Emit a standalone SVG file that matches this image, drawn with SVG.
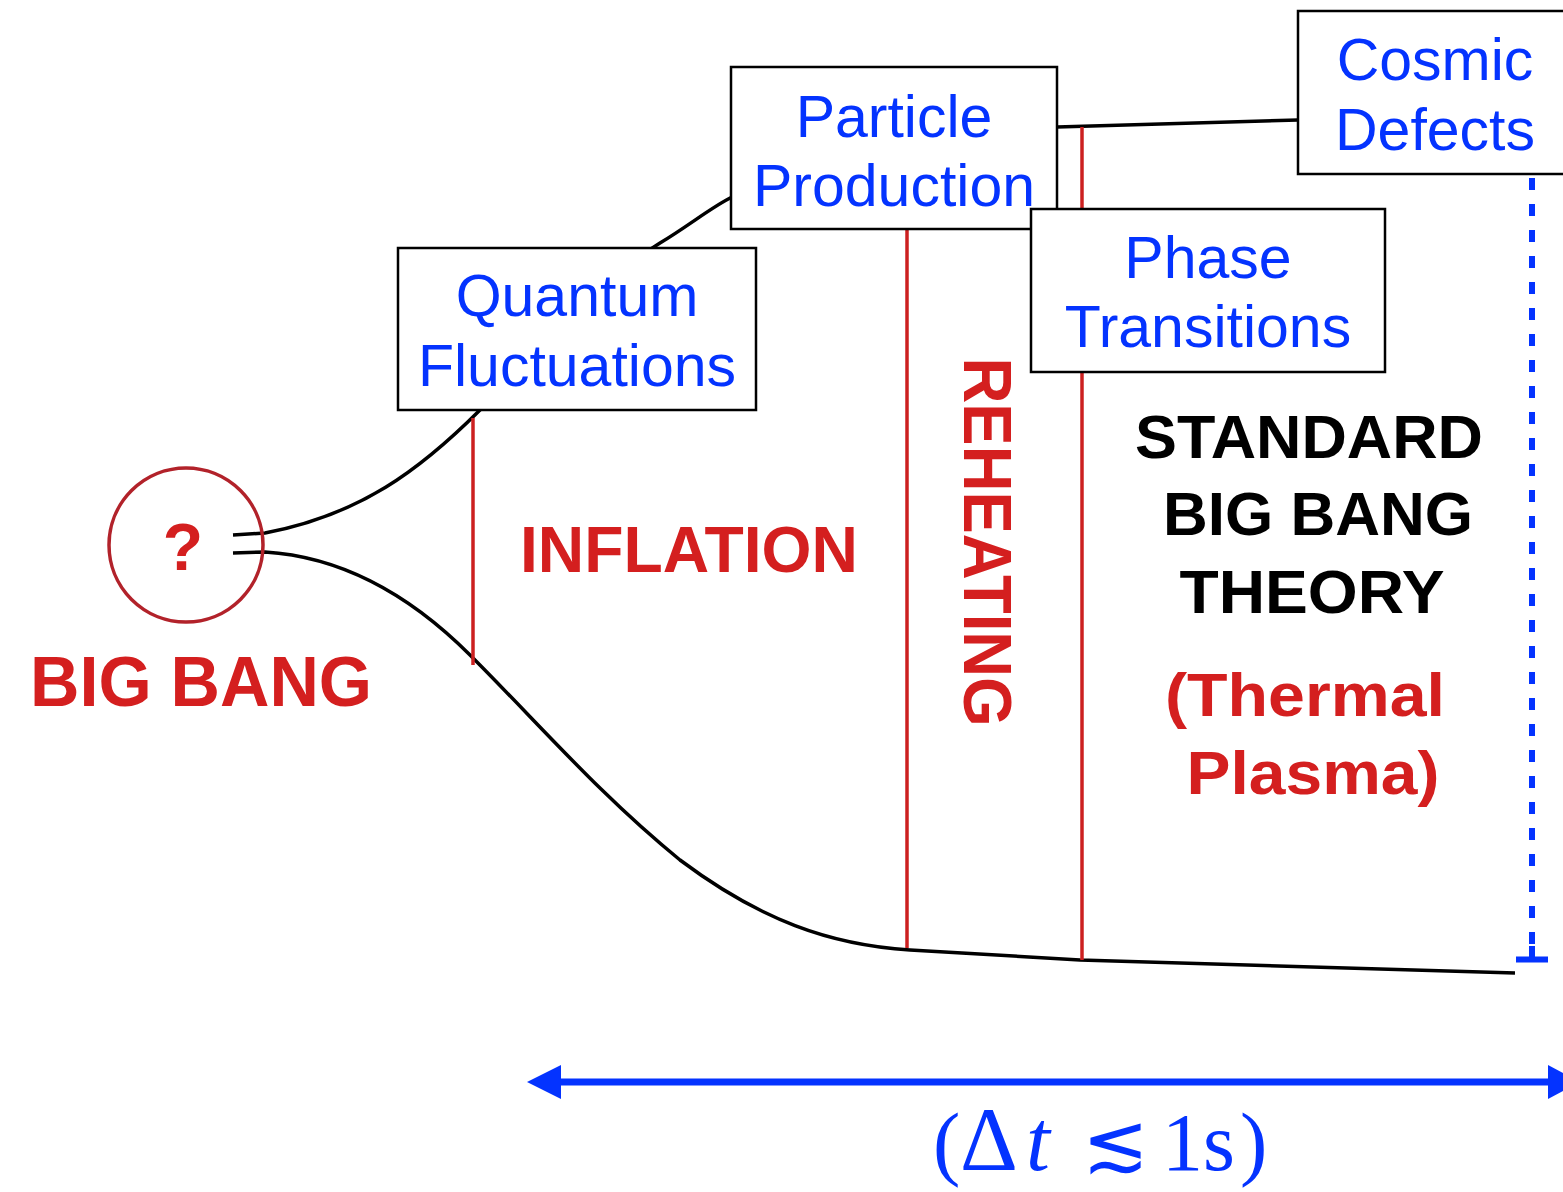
<svg xmlns="http://www.w3.org/2000/svg" width="1563" height="1192" viewBox="0 0 1563 1192">
<defs>
<style>
.box{fill:#fff;stroke:#000;stroke-width:2.5}
.bt{font-family:"Liberation Sans",Arial,sans-serif;font-size:59px;fill:#0433ff;text-anchor:middle}
.red{font-family:"Liberation Sans",Arial,sans-serif;font-weight:bold;fill:#d41f1f}
.blk{font-family:"Liberation Sans",Arial,sans-serif;font-weight:bold;fill:#000;font-size:62px;text-anchor:middle}
.curve{fill:none;stroke:#000;stroke-width:3.5}
.rline{stroke:#cc2020;stroke-width:3.5}
.math{font-family:"Liberation Serif","DejaVu Serif",serif;font-size:82px;fill:#0433ff}
</style>
</defs>
<rect width="1563" height="1192" fill="#fff"/>
<g id="connectors">
<path class="curve" d="M233,535 L265,533 C360,515 420,470 480,410 C540,350 600,280 660,243 C690,225 710,208 732,197"/>
<path class="curve" d="M233,553 L265,552 C330,556 400,585 470,655 C540,725 600,795 680,860 C760,920 830,945 910,950 L1080,960 L1515,973"/>
<path class="curve" d="M1057,127 L1298,120"/>
<line class="rline" x1="473" y1="418" x2="473" y2="665"/>
<line class="rline" x1="907" y1="200" x2="907" y2="948"/>
<line class="rline" x1="1082" y1="127" x2="1082" y2="960"/>
<line x1="1532" y1="178" x2="1532" y2="950" stroke="#0433ff" stroke-width="6" stroke-dasharray="12 14"/>
<path d="M1532,946 L1532,959 M1516,959.5 L1548,959.5" stroke="#0433ff" stroke-width="6" fill="none"/>
<line x1="560" y1="1082" x2="1550" y2="1082" stroke="#0433ff" stroke-width="7"/>
<path d="M527,1082 L561,1065 L561,1099 Z" fill="#0433ff"/>
<path d="M1580,1082 L1548,1065 L1548,1099 Z" fill="#0433ff"/>
</g>
<g id="bigbang">
<circle cx="186" cy="545" r="77" fill="none" stroke="#b2222a" stroke-width="3.5"/>
<text x="183" y="570" class="red" font-size="66" text-anchor="middle">?</text>
<text x="30" y="706" class="red" font-size="70" textLength="342" lengthAdjust="spacingAndGlyphs">BIG BANG</text>
</g>
<g id="quantum-fluctuations">
<rect class="box" x="398" y="248" width="358" height="162"/>
<text class="bt" x="577" y="316">Quantum</text>
<text class="bt" x="577" y="386">Fluctuations</text>
</g>
<g id="particle-production">
<rect class="box" x="731" y="67" width="326" height="162"/>
<text class="bt" x="894" y="137">Particle</text>
<text class="bt" x="894" y="206">Production</text>
</g>
<g id="phase-transitions">
<rect class="box" x="1031" y="209" width="354" height="163"/>
<text class="bt" x="1208" y="278">Phase</text>
<text class="bt" x="1208" y="347">Transitions</text>
</g>
<g id="cosmic-defects">
<rect class="box" x="1298" y="11" width="280" height="163"/>
<text class="bt" x="1435" y="80">Cosmic</text>
<text class="bt" x="1435" y="150">Defects</text>
</g>
<g id="inflation">
<text class="red" x="520" y="572" font-size="64" textLength="338" lengthAdjust="spacingAndGlyphs">INFLATION</text>
</g>
<g id="reheating">
<text class="red" font-size="68" text-anchor="middle" transform="translate(964,542) rotate(90)" textLength="369" lengthAdjust="spacingAndGlyphs">REHEATING</text>
</g>
<g id="standard-big-bang">
<text class="blk" x="1309" y="458" textLength="348" lengthAdjust="spacingAndGlyphs">STANDARD</text>
<text class="blk" x="1318" y="535" textLength="310" lengthAdjust="spacingAndGlyphs">BIG BANG</text>
<text class="blk" x="1312" y="613" textLength="265" lengthAdjust="spacingAndGlyphs">THEORY</text>
<text class="red" x="1305" y="716" font-size="62" text-anchor="middle" textLength="280" lengthAdjust="spacingAndGlyphs" fill="#dc2a10">(Thermal</text>
<text class="red" x="1313" y="794" font-size="62" text-anchor="middle" textLength="253" lengthAdjust="spacingAndGlyphs" fill="#dc2a10">Plasma)</text>
</g>
<g id="time-label">
<text class="math" y="1170"><tspan x="933">(</tspan><tspan x="960" font-size="90">Δ</tspan><tspan x="1026" font-style="italic" font-size="86">t</tspan><tspan x="1082" font-size="80">≲</tspan><tspan x="1162">1s</tspan><tspan x="1240">)</tspan></text>
</g>
</svg>
